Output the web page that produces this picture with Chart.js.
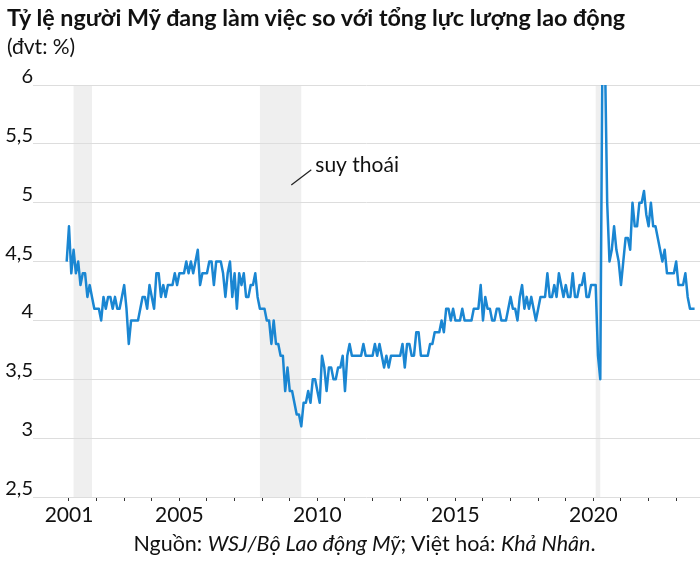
<!DOCTYPE html>
<html>
<head>
<meta charset="utf-8">
<script src="https://cdn.jsdelivr.net/npm/chart.js@4.4.0/dist/chart.umd.min.js"></script>
<style>
  html, body { margin: 0; padding: 0; background: #fff; }
  #wrap { position: relative; width: 700px; height: 562px; font-family: Lato, "Noto Sans", sans-serif; color: #111; overflow: hidden; }
  #c { position: absolute; left: 0; top: 0; }
  #title { position: absolute; left: 7px; top: 4px; font-weight: 700; font-size: 23.3px; line-height: 26px; white-space: nowrap; color: #111; }
  #sub { position: absolute; left: 7px; top: 34px; font-size: 21px; line-height: 24px; white-space: nowrap; color: #111; }
  #src { position: absolute; left: 0; width: 729px; top: 531px; text-align: center; font-size: 21.5px; line-height: 24px; white-space: nowrap; color: #111; }
</style>
</head>
<body>
<div id="wrap">
  <canvas id="c" width="700" height="562"></canvas>
  <div id="title">Tỷ lệ người Mỹ đang làm việc so với tổng lực lượng lao động</div>
  <div id="sub">(đvt: %)</div>
  <div id="src">Nguồn: <i>WSJ/Bộ Lao động Mỹ</i>; Việt hoá: <i>Khả Nhân</i>.</div>
</div>
<script>
// ---- data ----
const startYear = 2000;
const startMonth = 12; // first value = Dec 2000, monthly
const rateValues = [
  4.5, 4.8, 4.4, 4.6, 4.4, 4.5, 4.3, 4.4, 4.4, 4.2, 4.3, 4.2,
  4.1, 4.1, 4.1, 4.0, 4.2, 4.1, 4.2, 4.2, 4.1, 4.2, 4.1, 4.1,
  4.2, 4.3, 4.1, 3.8, 4.0, 4.0, 4.0, 4.0, 4.1, 4.2, 4.2, 4.1,
  4.3, 4.2, 4.1, 4.4, 4.4, 4.2, 4.3, 4.2, 4.3, 4.3, 4.3, 4.4,
  4.3, 4.4, 4.4, 4.4, 4.5, 4.4, 4.5, 4.4, 4.5, 4.6, 4.3, 4.4,
  4.4, 4.4, 4.5, 4.5, 4.3, 4.5, 4.5, 4.5, 4.4, 4.2, 4.4, 4.5,
  4.2, 4.4, 4.1, 4.4, 4.3, 4.4, 4.2, 4.2, 4.3, 4.3, 4.4, 4.2,
  4.1, 4.1, 4.1, 4.0, 4.0, 3.8, 4.0, 3.8, 3.8, 3.7, 3.7, 3.4,
  3.6, 3.4, 3.4, 3.3, 3.2, 3.2, 3.1, 3.3, 3.3, 3.4, 3.3, 3.5,
  3.5, 3.4, 3.3, 3.7, 3.6, 3.4, 3.6, 3.6, 3.5, 3.5, 3.6, 3.6,
  3.7, 3.4, 3.7, 3.8, 3.7, 3.7, 3.7, 3.7, 3.7, 3.8, 3.7, 3.7,
  3.7, 3.7, 3.8, 3.7, 3.8, 3.7, 3.6, 3.7, 3.6, 3.7, 3.7, 3.7,
  3.7, 3.7, 3.8, 3.6, 3.8, 3.8, 3.7, 3.7, 3.9, 3.9, 3.7, 3.7,
  3.7, 3.7, 3.8, 3.8, 3.9, 3.9, 3.9, 4.0, 3.9, 4.1, 4.1, 4.0,
  4.1, 4.0, 4.0, 4.0, 4.1, 4.0, 4.0, 4.0, 4.0, 4.1, 4.1, 4.1,
  4.3, 4.0, 4.2, 4.1, 4.1, 4.0, 4.0, 4.1, 4.1, 4.0, 4.0, 4.0,
  4.1, 4.2, 4.1, 4.1, 4.0, 4.2, 4.3, 4.1, 4.2, 4.1, 4.2, 4.1,
  4.0, 4.1, 4.2, 4.2, 4.2, 4.4, 4.2, 4.2, 4.3, 4.2, 4.4, 4.3,
  4.2, 4.3, 4.2, 4.2, 4.4, 4.2, 4.2, 4.3, 4.3, 4.4, 4.2, 4.2,
  4.3, 4.3, 4.3, 3.7, 3.5, 6.5, 6.3, 5.0, 4.5, 4.6, 4.8, 4.6,
  4.5, 4.3, 4.5, 4.7, 4.7, 4.6, 5.0, 4.8, 4.8, 5.0, 5.0, 5.1,
  4.9, 4.8, 5.0, 4.8, 4.8, 4.7, 4.6, 4.5, 4.6, 4.4, 4.4, 4.4,
  4.4, 4.5, 4.3, 4.3, 4.3, 4.4, 4.2, 4.1, 4.1, 4.1
];
const yTickValues = [2.5, 3, 3.5, 4, 4.5, 5, 5.5, 6];
const xLabelYears = [2001, 2005, 2010, 2015, 2020];
const xTickFirstYear = 2001;
const xTickLastYear = 2023;
const recessions = [
  ['2001-03', '2001-11'],
  ['2007-12', '2009-06'],
  ['2020-02', '2020-04']
];
const noteText = 'suy thoái';

// ---- helpers ----
function ym(s) { const p = s.split('-'); return +p[0] + (+p[1] - 1) / 12; }
const points = rateValues.map((v, i) => ({ x: startYear + (startMonth - 1 + i) / 12, y: v }));
const xTicks = [];
for (let y = xTickFirstYear; y <= xTickLastYear; y++) xTicks.push(y);

const FONT = 'Lato, "Noto Sans", sans-serif';

const shadePlugin = {
  id: 'shade',
  beforeDraw(chart) {
    const { ctx, chartArea, scales } = chart;
    ctx.save();
    ctx.fillStyle = '#efefef';
    recessions.forEach(r => {
      const x0 = scales.x.getPixelForValue(ym(r[0]));
      const x1 = scales.x.getPixelForValue(ym(r[1]));
      ctx.fillRect(x0, chartArea.top, x1 - x0, chartArea.bottom - chartArea.top);
    });
    ctx.restore();
  },
  afterDatasetsDraw(chart) {
    const { ctx, scales } = chart;
    const r = recessions[1];
    const xEnd = scales.x.getPixelForValue(ym(r[1]));
    const y0 = scales.y.getPixelForValue(5.15);
    const y1 = scales.y.getPixelForValue(5.28);
    ctx.save();
    ctx.strokeStyle = '#222';
    ctx.lineWidth = 1.2;
    ctx.beginPath();
    ctx.moveTo(xEnd - 10, y0);
    ctx.lineTo(xEnd + 10, y1);
    ctx.stroke();
    ctx.fillStyle = '#111';
    ctx.font = '21px ' + FONT;
    ctx.textBaseline = 'alphabetic';
    ctx.textAlign = 'left';
    ctx.fillText(noteText, xEnd + 14, scales.y.getPixelForValue(5.26));
    ctx.restore();
  }
};

new Chart(document.getElementById('c'), {
  type: 'line',
  data: {
    datasets: [{
      data: points,
      borderColor: '#1a86d2',
      borderWidth: 2.5,
      borderJoinStyle: 'round',
      pointRadius: 0,
      tension: 0,
      fill: false
    }]
  },
  options: {
    responsive: false,
    animation: false,
    events: [],
    layout: { padding: { top: 85, right: 0, bottom: 0, left: 0 } },
    plugins: { legend: { display: false }, tooltip: { enabled: false }, title: { display: false } },
    scales: {
      x: {
        type: 'linear',
        min: 1999.696,
        max: 2023.863,
        afterBuildTicks(s) { s.ticks = xTicks.map(v => ({ value: v })); },
        afterFit(s) { s.height = 65; },
        border: { display: false },
        grid: { drawOnChartArea: false, drawTicks: true, tickLength: 4, tickColor: '#333', color: '#333', tickWidth: 1 },
        ticks: {
          autoSkip: false, maxRotation: 0, padding: 2,
          color: '#111',
          font: { family: FONT, size: 21 },
          callback: v => xLabelYears.includes(v) ? String(v) : ''
        }
      },
      y: {
        min: 2.5,
        max: 6,
        afterBuildTicks(s) { s.ticks = yTickValues.map(v => ({ value: v })); },
        afterFit(s) { s.width = 33; },
        border: { display: false },
        grid: { color: '#dddddd', lineWidth: 1, drawTicks: false },
        ticks: {
          padding: 0,
          labelOffset: -8.5,
          color: '#111',
          font: { family: FONT, size: 20 },
          callback: v => String(v).replace('.', ',')
        }
      }
    }
  },
  plugins: [shadePlugin]
});
</script>
</body>
</html>
